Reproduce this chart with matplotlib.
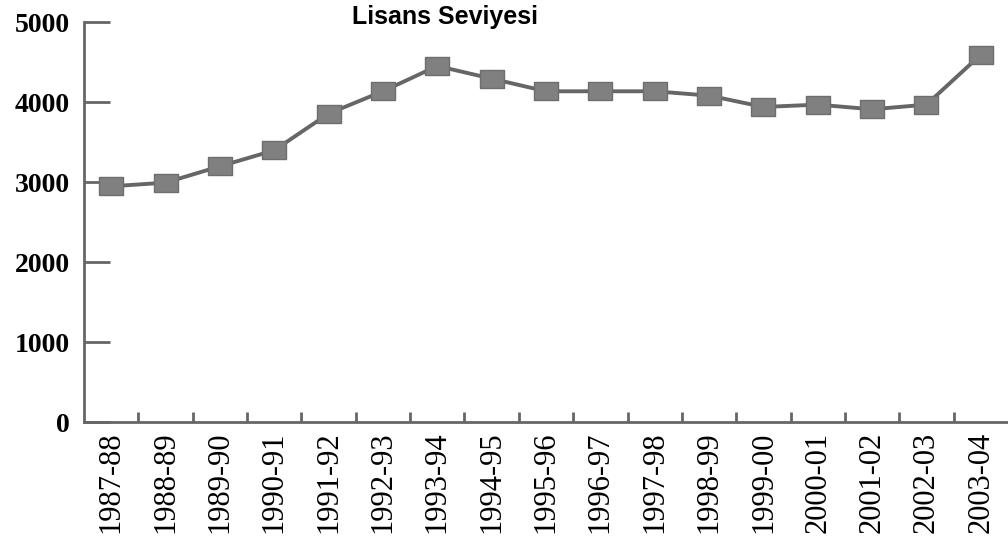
import matplotlib.pyplot as plt
import numpy as np

# Data
years = ["1987-88", "1988-89", "1989-90", "1990-91", "1991-92", "1992-93",
         "1993-94", "1994-95", "1995-96", "1996-97", "1997-98", "1998-99",
         "1999-00", "2000-01", "2001-02", "2002-03", "2003-04"]
values = [2946, 2992, 3196, 3396, 3855, 4134, 4450, 4292, 4134, 4134,
          4134, 4080, 3938, 3967, 3909, 3967, 4592]
yticks = [0, 1000, 2000, 3000, 4000, 5000]

grey = "#666666"
box = [(-1.3, -1), (1.3, -1), (1.3, 1), (-1.3, 1), (-1.3, -1)]  # wide square marker

fig = plt.figure(figsize=(10.08, 5.48), dpi=100)
ax = fig.add_axes([84 / 1008, 126 / 548, 924 / 1008, 400 / 548])

x = np.arange(len(years))
ax.plot(x, values, color=grey, lw=2.8, marker=box, markersize=17,
        markerfacecolor="#808080", markeredgecolor="#6e6e6e", markeredgewidth=1)

ax.set_xlim(-0.5, len(years) - 0.5)
ax.set_ylim(0, 5000)

# spines
for s in ["top", "right"]:
    ax.spines[s].set_visible(False)
for s in ["left", "bottom"]:
    ax.spines[s].set_color(grey)
    ax.spines[s].set_linewidth(2)

# y ticks: long inward marks, bold serif labels
ax.set_yticks(yticks)
ax.set_yticklabels([str(v) for v in yticks], fontfamily="Liberation Serif",
                   fontweight="bold", fontsize=20)
ax.tick_params(axis="y", direction="in", length=19, width=2, color=grey, pad=10)

# x ticks: labels at categories, short marks between them
ax.set_xticks(x)
ax.set_xticklabels(years, rotation=90, fontfamily="Liberation Serif", fontsize=22)
ax.tick_params(axis="x", which="major", length=0, pad=7)
ax.set_xticks(np.arange(0.5, len(years) - 0.5, 1), minor=True)
ax.tick_params(axis="x", which="minor", direction="in", length=7, width=2, color=grey)

fig.text(445 / 1008, 1 - 17 / 548, "Lisans Seviyesi", ha="center", va="center",
         fontfamily="Liberation Sans", fontweight="bold", fontsize=18)

fig.savefig("out.png", dpi=100)
